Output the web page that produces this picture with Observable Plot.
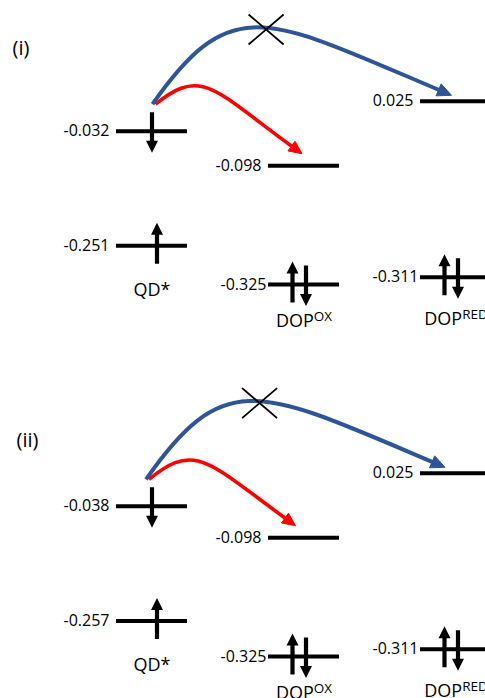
<!DOCTYPE html>
<html>
<head>
<meta charset="utf-8">
<script src="https://cdn.jsdelivr.net/npm/d3@7"></script>
<script src="https://cdn.jsdelivr.net/npm/@observablehq/plot@0.6"></script>
<style>
  html, body { margin: 0; padding: 0; background: #fff; overflow: hidden; }
  #wrap { width: 485px; height: 698px; overflow: hidden; position: relative; background: #fff; }
  #wrap svg { display: block; overflow: hidden; }
</style>
</head>
<body>
<div id="wrap"></div>
<script>
// ---------------- data ----------------
const panels = ["(i)", "(ii)"];
const species = ["QD*", "DOPOX", "DOPRED"];
const speciesText = ["QD*", "DOP^OX", "DOP^RED"];

// energy levels (same order in each panel)
const levelSpecies = ["QD*", "QD*", "DOPOX", "DOPOX", "DOPRED", "DOPRED"];
const levelSpin    = ["down", "up", "", "pair", "", "pair"];
const energiesI    = [-0.032, -0.251, -0.098, -0.325, 0.025, -0.311];
const energiesII   = [-0.038, -0.257, -0.098, -0.325, 0.025, -0.311];
const panelEnergies = [energiesI, energiesII];

// electron transfers: from level index -> to level index
const transferFrom    = [0, 0];
const transferTo      = [4, 2];
const transferBlocked = [true, false];

// ---------------- style / layout ----------------
const BLUE = "#2F5597", RED = "#FF0000";
const FONT = "'Open Sans', 'Noto Sans', sans-serif";
const HALF = 35.5;                       // half width of a level line
const panelLabelPos = [{dx: 12, dy: 48}, {dx: 16, dy: 68}];
const arcShiftX = [0, -6.5];
const speciesLabelDy = {"QD*": 44, "DOPOX": 37, "DOPRED": 42};

const blueArc = {sx: 0.5, sy: -27, ex: -4.5, ey: -6, a0: 55, k: 138, a1: 23, m: 190, headL: 14, headW: 6.5};
const redArc  = {sx: 3.5, sy: -27, ex: -2,   ey: -12, a0: 39, k: 60, a1: 36, m: 100, headL: 13, headW: 6};

// custom symbols for electron spin arrows (pixel geometry around the level point)
const upArrow = {draw(c) {
  c.moveTo(0, -23); c.lineTo(6, -11); c.lineTo(2.1, -11); c.lineTo(2.1, 18);
  c.lineTo(-2.1, 18); c.lineTo(-2.1, -11); c.lineTo(-6, -11); c.closePath();
}};
const downArrow = {draw(c) {
  c.moveTo(0, 21.5); c.lineTo(6, 9.5); c.lineTo(2.1, 9.5); c.lineTo(2.1, -19);
  c.lineTo(-2.1, -19); c.lineTo(-2.1, 9.5); c.lineTo(-6, 9.5); c.closePath();
}};

// custom curve factory: bezier arc between two link endpoints
function arcCurve(cfg, part) {
  return function(context) {
    let pts = [];
    return {
      areaStart() {}, areaEnd() {},
      lineStart() { pts = []; },
      point(x, y) { pts.push([+x, +y]); },
      lineEnd() {
        if (pts.length < 2) return;
        const a = pts[0], b = pts[pts.length - 1];
        const p0 = [a[0] + cfg.sx, a[1] + cfg.sy];
        const p3 = [b[0] + cfg.ex, b[1] + cfg.ey];
        const r0 = cfg.a0 * Math.PI / 180, r1 = cfg.a1 * Math.PI / 180;
        const u = [Math.cos(r1), Math.sin(r1)];
        const p1 = [p0[0] + cfg.k * Math.cos(r0), p0[1] - cfg.k * Math.sin(r0)];
        const p2 = [p3[0] - cfg.m * u[0], p3[1] - cfg.m * u[1]];
        if (part === "line") {
          const s = cfg.headL * 0.75;
          context.moveTo(p0[0], p0[1]);
          context.bezierCurveTo(p1[0], p1[1], p2[0] - s * u[0], p2[1] - s * u[1], p3[0] - s * u[0], p3[1] - s * u[1]);
        } else if (part === "head") {
          const bx = p3[0] - cfg.headL * u[0], by = p3[1] - cfg.headL * u[1];
          const n = [-u[1], u[0]];
          context.moveTo(p3[0], p3[1]);
          context.lineTo(bx + cfg.headW * n[0], by + cfg.headW * n[1]);
          context.lineTo(bx - cfg.headW * n[0], by - cfg.headW * n[1]);
          context.closePath();
        } else if (part === "cross") {
          const mx = (p0[0] + 3 * p1[0] + 3 * p2[0] + p3[0]) / 8;
          const my = (p0[1] + 3 * p1[1] + 3 * p2[1] + p3[1]) / 8;
          context.moveTo(mx - 17.5, my - 15); context.lineTo(mx + 17.5, my + 15);
          context.moveTo(mx - 17.5, my + 15); context.lineTo(mx + 17.5, my - 15);
        }
      }
    };
  };
}

function makePanel(p) {
  const E = panelEnergies[p];
  const levels = levelSpecies.map((s, i) => ({species: s, energy: E[i], spin: levelSpin[i]}));
  const transfers = transferFrom.map((f, i) => ({
    from: levels[f].species, fromE: levels[f].energy,
    to: levels[transferTo[i]].species, toE: levels[transferTo[i]].energy,
    blocked: transferBlocked[i]
  }));
  const speciesLabels = species.map((s, i) => ({
    species: s, text: speciesText[i],
    energy: d3.min(levels.filter(l => l.species === s), l => l.energy)
  }));
  const shift = arcShiftX[p];
  const bCfg = {...blueArc, sx: blueArc.sx + shift, ex: blueArc.ex + shift};
  const rCfg = {...redArc, sx: redArc.sx + shift, ex: redArc.ex + shift};
  const blocked = transfers.filter(d => d.blocked);
  const allowed = transfers.filter(d => !d.blocked);
  const linkCh = {x1: "from", y1: "fromE", x2: "to", y2: "toE"};

  const svg = Plot.plot({
    width: 485, height: 372,
    marginTop: 0, marginRight: 0, marginBottom: 0, marginLeft: 0,
    style: {fontFamily: FONT, background: "#fff", color: "black"},
    x: {type: "band", domain: species, range: [116, 491], paddingInner: 0.533, paddingOuter: 0, axis: null},
    y: {domain: [-0.325, 0.025], range: [284.1, 100.8], axis: null},
    marks: [
      Plot.tickY(levels, {x: "species", y: "energy", stroke: "black", strokeWidth: 4}),
      Plot.dot(levels.filter(d => d.spin === "down"), {x: "species", y: "energy", symbol: downArrow, fill: "black", stroke: "none", dx: 0}),
      Plot.dot(levels.filter(d => d.spin === "up"), {x: "species", y: "energy", symbol: upArrow, fill: "black", stroke: "none", dx: 5}),
      Plot.dot(levels.filter(d => d.spin === "pair"), {x: "species", y: "energy", symbol: upArrow, fill: "black", stroke: "none", dx: -11.5}),
      Plot.dot(levels.filter(d => d.spin === "pair"), {x: "species", y: "energy", symbol: downArrow, fill: "black", stroke: "none", dx: 2}),
      Plot.text(levels.filter(d => d.spin !== "pair"), {x: "species", y: "energy", text: d => d.energy.toFixed(3), textAnchor: "end", dx: -HALF - 7, fontSize: 16, fill: "black"}),
      Plot.text(levels.filter(d => d.spin === "pair"), {x: "species", y: "energy", text: d => d.energy.toFixed(3), textAnchor: "end", dx: -HALF - 2, fontSize: 16, fill: "black"}),
      ...species.map(s => Plot.text(speciesLabels.filter(d => d.species === s), {x: "species", y: "energy", text: "text", dy: speciesLabelDy[s], fontSize: 18, fill: "black"})),
      Plot.text([panels[p]], {frameAnchor: "top-left", text: d => d, textAnchor: "start", lineAnchor: "middle", dx: panelLabelPos[p].dx, dy: panelLabelPos[p].dy, fontSize: 20, fill: "black"}),
      Plot.link(allowed, {...linkCh, curve: arcCurve(rCfg, "line"), stroke: RED, strokeWidth: 3.6, fill: "none"}),
      Plot.link(allowed, {...linkCh, curve: arcCurve(rCfg, "head"), stroke: RED, strokeWidth: 1, fill: RED, strokeLinejoin: "miter"}),
      Plot.link(blocked, {...linkCh, curve: arcCurve(bCfg, "line"), stroke: BLUE, strokeWidth: 4, fill: "none"}),
      Plot.link(blocked, {...linkCh, curve: arcCurve(bCfg, "head"), stroke: BLUE, strokeWidth: 1, fill: BLUE, strokeLinejoin: "miter"}),
      Plot.link(blocked, {...linkCh, curve: arcCurve(bCfg, "cross"), stroke: "black", strokeWidth: 1.8, fill: "none"})
    ]
  });

  // superscripts: "DOP^OX" -> DOP + raised smaller "OX"
  svg.querySelectorAll("text").forEach(t => {
    const s = t.textContent;
    const k = s.indexOf("^");
    if (k < 0 || t.children.length) return;
    t.textContent = s.slice(0, k);
    const ts = document.createElementNS("http://www.w3.org/2000/svg", "tspan");
    ts.setAttribute("font-size", "13.5");
    ts.setAttribute("dy", "-6.5");
    ts.textContent = s.slice(k + 1);
    t.appendChild(ts);
  });
  return svg;
}

const wrap = document.getElementById("wrap");
panels.forEach((_, p) => wrap.appendChild(makePanel(p)));
</script>
</body>
</html>
